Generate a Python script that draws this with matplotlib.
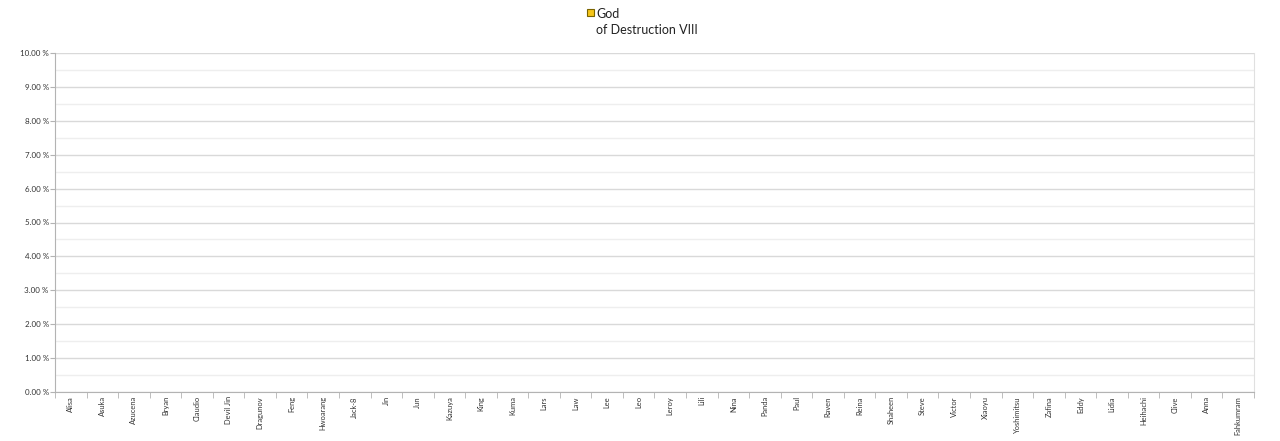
import matplotlib
matplotlib.use("Agg")
import matplotlib.pyplot as plt
from matplotlib.ticker import MultipleLocator, FuncFormatter
from matplotlib.patches import Rectangle

categories = ["Alisa", "Asuka", "Azucena", "Bryan", "Claudio", "Devil Jin", "Dragunov",
              "Feng", "Hwoarang", "Jack-8", "Jin", "Jun", "Kazuya", "King", "Kuma",
              "Lars", "Law", "Lee", "Leo", "Leroy", "Lili", "Nina", "Panda", "Paul",
              "Raven", "Reina", "Shaheen", "Steve", "Victor", "Xiaoyu", "Yoshimitsu",
              "Zafina", "Eddy", "Lidia", "Heihachi", "Clive", "Anna", "Fahkumram"]
series_name = "God\nof Destruction VIII"
values = [0.0] * len(categories)

plt.rcParams['font.family'] = ['Lato', 'DejaVu Sans']

W, H = 1280, 441
fig = plt.figure(figsize=(W / 100, H / 100), dpi=100)
ax = fig.add_axes([55/W, 1 - 392/H, (1254 - 55)/W, (392 - 53)/H])

color = "#f5c518"
x = list(range(len(categories)))
ax.bar(x, values, width=0.6, color=color, linewidth=0)

ax.set_xlim(-0.5, len(categories) - 0.5)
ax.set_ylim(0, 10)
ax.yaxis.set_major_locator(MultipleLocator(1))
ax.yaxis.set_minor_locator(MultipleLocator(0.5))
ax.yaxis.set_major_formatter(FuncFormatter(lambda v, p: f"{v:.2f} %"))
ax.grid(which="major", axis="y", color="#d9d9d9", linewidth=1)
ax.grid(which="minor", axis="y", color="#eeeeee", linewidth=1)
ax.set_axisbelow(True)

ax.set_xticks(x)
ax.set_xticklabels(categories, rotation=90, fontsize=5.4, color="#333333")
ax.set_xticks([i + 0.5 for i in range(-1, len(categories))], minor=True)
ax.tick_params(axis="x", which="major", length=0, pad=3)
ax.tick_params(axis="x", which="minor", length=4, color="#b3b3b3")
ax.tick_params(axis="y", which="major", length=3.5, color="#b3b3b3", labelsize=5.8,
               labelcolor="#333333", pad=1)
ax.tick_params(axis="y", which="minor", length=0)

ax.spines["top"].set_visible(False)
ax.spines["left"].set_color("#b3b3b3")
ax.spines["bottom"].set_color("#b3b3b3")
ax.spines["right"].set_color("#e0e0e0")

# legend (square aligned with first line, as in reference)
fig.patches.append(Rectangle((587/W, 1 - 16/H), 7/W, 7/H, transform=fig.transFigure,
                             facecolor=color, edgecolor="#7a6400", linewidth=0.8))
for i, line in enumerate(series_name.split("\n")):
    fig.text(596/W, 1 - (18 + 16 * i)/H, line, ha="left", va="baseline", fontsize=9,
             color="#222222")

fig.savefig("out.png", dpi=100)
